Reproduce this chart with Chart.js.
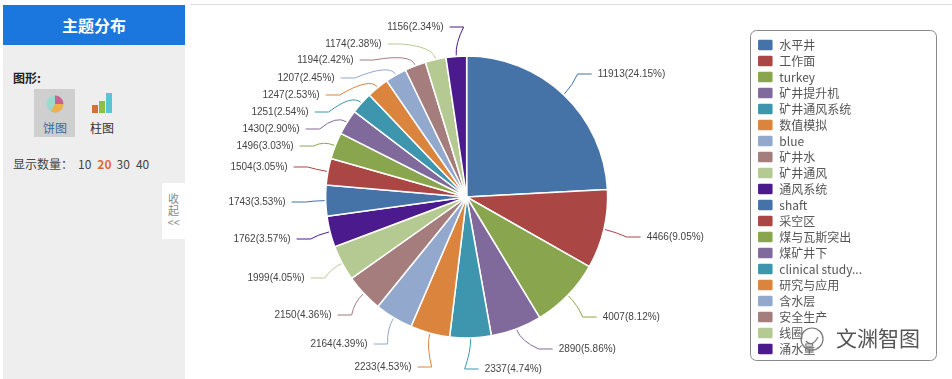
<!DOCTYPE html>
<html lang="zh">
<head>
    <meta charset="UTF-8">
    <title>主题分布</title>
    <script src="https://cdn.jsdelivr.net/npm/chart.js"></script>
    <style>
        html, body { margin: 0; padding: 0; background: #fff; overflow: hidden; }
        body { width: 952px; height: 379px; position: relative; font-family: "Noto Sans CJK SC", sans-serif; color: #444; }
        #topLine { position: absolute; left: 190px; right: 0; top: 4px; height: 1px; background: #ddd; }
        #sidebar { position: absolute; left: 3px; top: 5px; width: 182px; height: 374px; background: #eeeeee; }
        #sideTitle { height: 40px; line-height: 40px; background: #1b76dd; color: #fff; font-size: 16px; font-weight: bold; text-align: center; }
        .abs { position: absolute; white-space: nowrap; }
        #chartType { left: 10px; top: 64px; font-size: 12px; font-weight: bold; color: #222; }
        #pieBtn { left: 31px; top: 84px; width: 41px; height: 48px; background: #cfcfcf; }
        #pieText { left: 40px; top: 114px; font-size: 12px; color: #3d6aa0; }
        #barText { left: 87px; top: 114px; font-size: 12px; color: #333; }
        #countRow { left: 10px; top: 150px; font-size: 12px; color: #444; }
        #countRow b { color: #e4683a; }
        #countRow span { display: inline-block; width: 19.3px; }
        #countRow .first { width: auto; margin-right: 5px; }
        #collapse { left: 159px; top: 178px; width: 23px; height: 56px; background: #fff; font-size: 11px; color: #888; text-align: center; line-height: 12px; padding-top: 9px; box-sizing: border-box; }
        canvas { position: absolute; left: 0; top: 0; }
        #mark { position: absolute; left: 836px; top: 322px; font-size: 21px; color: #555; text-shadow: 0 0 3px #fff, 0 0 3px #fff, 0 0 3px #fff; }
        #markIcon { position: absolute; left: 797px; top: 324px; }
    </style>
</head>
<body>

    <div id="topLine"></div>
    <div id="sidebar">
        <div id="sideTitle">主题分布</div>
        <div class="abs" id="chartType">图形:</div>
        <div class="abs" id="pieBtn"></div>
        <svg class="abs" style="left:42px;top:89px" width="20" height="20" viewBox="0 0 20 20">
            <circle cx="10" cy="10" r="8.5" fill="#9fd8cf"/>
            <path d="M10 10 L10 1.5 A8.5 8.5 0 0 1 18.5 10 Z" fill="#c9628e"/>
            <path d="M10 10 L18.5 10 A8.5 8.5 0 0 1 6 17.5 Z" fill="#eeb04a"/>
        </svg>
        <svg class="abs" style="left:88px;top:86px" width="24" height="23" viewBox="0 0 24 23">
            <rect x="1" y="14" width="6" height="8" fill="#d4703a"/>
            <rect x="8" y="10" width="6" height="12" fill="#8cbf45"/>
            <rect x="15" y="2" width="6" height="20" fill="#57c5d4"/>
        </svg>
        <div class="abs" id="pieText">饼图</div>
        <div class="abs" id="barText">柱图</div>
        <div class="abs" id="countRow"><span class="first">显示数量：</span><span>10</span><span><b>20</b></span><span>30</span><span>40</span></div>
        <div class="abs" id="collapse">收<br>起<br>&lt;&lt;</div>
    </div>

    <canvas id="pieChart" width="952" height="379"></canvas>

    <svg id="markIcon" width="30" height="30" viewBox="0 0 30 30">
        <circle cx="15" cy="15" r="11" fill="none" stroke="#777" stroke-width="1.2"/>
        <path d="M9 17 Q15 24 21 13" fill="none" stroke="#777" stroke-width="1.2"/>
    </svg>
    <div id="mark">文渊智图</div>

    <script>
        const categories = ['水平井', '工作面', 'turkey', '矿井提升机', '矿井通风系统', '数值模拟', 'blue', '矿井水', '矿井通风', '通风系统',
            'shaft', '采空区', '煤与瓦斯突出', '煤矿井下', 'clinical study...', '研究与应用', '含水层', '安全生产', '线圈', '涌水量'];
        const values = [11913, 4466, 4007, 2890, 2337, 2233, 2164, 2150, 1999, 1762,
            1743, 1504, 1496, 1430, 1251, 1247, 1207, 1194, 1174, 1156];
        const colors = ['#4572a7', '#aa4643', '#89a54e', '#80699b', '#3d96ae', '#db843d', '#92a8cd', '#a47d7c', '#b5ca92', '#4b1a8c',
            '#4572a7', '#aa4643', '#89a54e', '#80699b', '#3d96ae', '#db843d', '#92a8cd', '#a47d7c', '#b5ca92', '#4b1a8c'];

        // where each label text sits, relative to the pie centre
        const labelSpots = [[131, -123], [180, 40], [136, 120], [92, 152], [18, 172], [-55, 170], [-99, 147], [-135, 118], [-162, 81], [-176, 42],
            [-181, 5], [-179, -30], [-173, -51], [-167, -68], [-158, -85], [-147, -102], [-132, -119], [-113, -137], [-85, -153], [-23, -170]];

        const total = values.reduce((a, b) => a + b, 0);

        // Leader lines and value labels
        const sliceLabels = {
            id: 'sliceLabels',
            afterDatasetsDraw(chart) {
                const ctx = chart.ctx;
                ctx.save();
                ctx.font = '10px "Liberation Sans", Arial, sans-serif';
                ctx.textBaseline = 'middle';
                chart.getDatasetMeta(0).data.forEach((arc, i) => {
                    const mid = (arc.startAngle + arc.endAngle) / 2;
                    const cos = Math.cos(mid), sin = Math.sin(mid);
                    const r = arc.outerRadius;
                    const right = labelSpots[i][0] > 0;
                    const dir = right ? 1 : -1;
                    const lx = arc.x + labelSpots[i][0];
                    const ly = arc.y + labelSpots[i][1];
                    const endX = lx - dir * 6;

                    ctx.strokeStyle = colors[i];
                    ctx.lineWidth = 1;
                    ctx.beginPath();
                    ctx.moveTo(arc.x + cos * (r + 1), arc.y + sin * (r + 1));
                    ctx.quadraticCurveTo(arc.x + cos * (r + 13), arc.y + sin * (r + 13), endX - dir * 14, ly);
                    ctx.lineTo(endX, ly);
                    ctx.stroke();

                    ctx.fillStyle = '#444';
                    ctx.textAlign = right ? 'left' : 'right';
                    ctx.fillText(values[i] + '(' + (values[i] / total * 100).toFixed(2) + '%)', lx, ly);
                });
                ctx.restore();
            }
        };

        // Rounded frame round the legend
        const legendFrame = {
            id: 'legendFrame',
            beforeDraw(chart) {
                const ctx = chart.ctx;
                ctx.save();
                ctx.strokeStyle = '#888';
                ctx.lineWidth = 1;
                ctx.beginPath();
                ctx.roundRect(750.5, 30.5, 186, 330, 6);
                ctx.stroke();
                ctx.restore();
            }
        };

        new Chart(document.getElementById('pieChart'), {
            type: 'pie',
            data: {
                labels: categories,
                datasets: [{
                    data: values,
                    backgroundColor: colors,
                    borderColor: '#fff',
                    borderWidth: 1.5,
                    radius: 141
                }]
            },
            options: {
                responsive: false,
                animation: false,
                layout: { padding: { left: 180, top: 15, right: 80 } },
                plugins: {
                    tooltip: { enabled: false },
                    legend: {
                        position: 'right',
                        labels: {
                            boxWidth: 16,
                            boxHeight: 12,
                            padding: 4,
                            color: '#555',
                            useBorderRadius: true,
                            borderRadius: 2,
                            font: { family: '"Noto Sans CJK SC", sans-serif', size: 12, lineHeight: 1 }
                        }
                    }
                }
            },
            plugins: [legendFrame, sliceLabels]
        });
    </script>

</body>
</html>
